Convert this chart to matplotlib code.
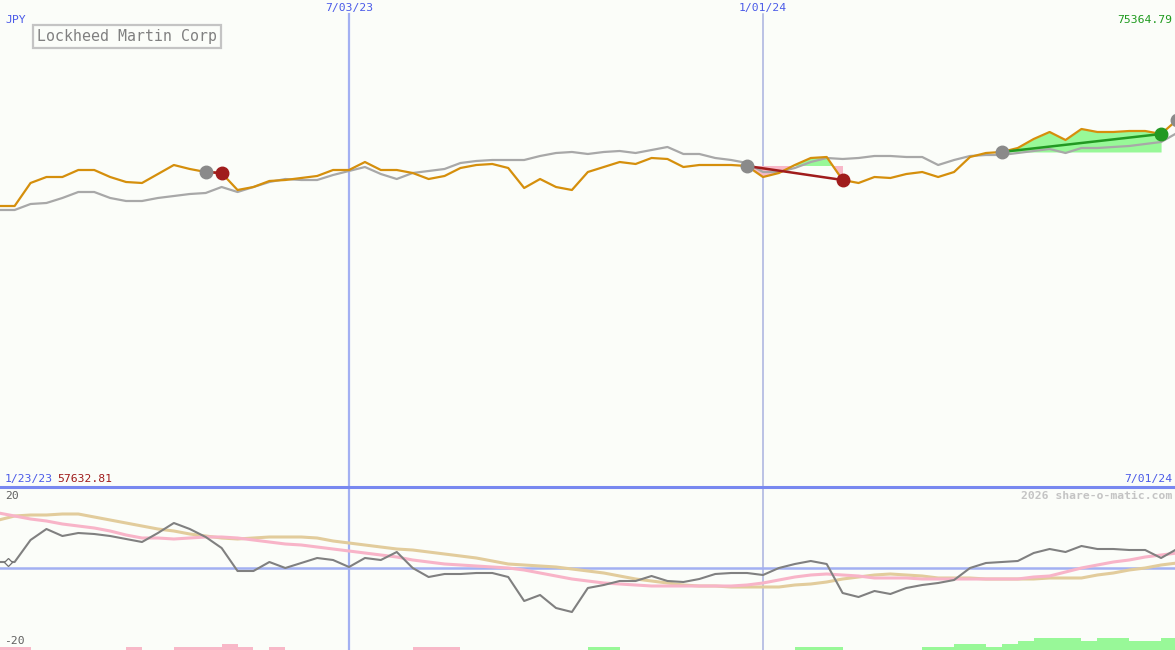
import matplotlib
matplotlib.use("Agg")
import matplotlib.pyplot as plt
import matplotlib.dates as mdates
import matplotlib.transforms as mtransforms
import numpy as np
import pandas as pd
from datetime import datetime

# ---------------- data ----------------
dates = pd.date_range("2023-01-30", periods=75, freq="7D")

price = [67864, 67864, 68702, 68920, 68920, 69175, 69175, 68920, 68738, 68702,
         69029, 69357, 69212, 69102, 69066, 68447, 68556, 68775, 68811, 68884,
         68957, 69175, 69175, 69466, 69175, 69175, 69066, 68847, 68957, 69248,
         69357, 69394, 69248, 68520, 68847, 68556, 68447, 69102, 69284, 69466,
         69394, 69612, 69576, 69284, 69357, 69357, 69357, 69321, 68920, 69066,
         69357, 69612, 69648, 68811, 68702, 68920, 68884, 69029, 69102, 68920,
         69102, 69648, 69794, 69831, 69976, 70304, 70559, 70267, 70668, 70559,
         70559, 70595, 70595, 70486, 70996]

benchmark = [67719, 67719, 67937, 67974, 68156, 68374, 68374, 68156, 68046, 68046,
             68156, 68228, 68301, 68338, 68556, 68374, 68556, 68738, 68847, 68811,
             68811, 68993, 69139, 69284, 69029, 68847, 69066, 69139, 69212, 69430,
             69503, 69539, 69539, 69539, 69685, 69794, 69831, 69758, 69831, 69867,
             69794, 69903, 70013, 69758, 69758, 69612, 69539, 69430, 69102, 69102,
             69248, 69466, 69612, 69576, 69612, 69685, 69685, 69648, 69648, 69357,
             69539, 69685, 69721, 69721, 69794, 69867, 69940, 69794, 69976, 69976,
             70013, 70049, 70122, 70195, 70522]

momentum = [1.5, 1.5, 7, 9.75, 8, 8.75, 8.5, 8, 7.25, 6.5,
            8.75, 11.25, 9.75, 7.75, 5, -0.75, -0.75, 1.5, 0, 1.25,
            2.5, 2, 0.25, 2.5, 2, 4, 0, -2.25, -1.5, -1.5,
            -1.25, -1.25, -2.25, -8.25, -6.75, -10, -11, -5, -4.25, -3.25,
            -3.25, -2, -3.25, -3.5, -2.75, -1.5, -1.25, -1.25, -1.75, 0,
            1, 1.75, 1, -6.25, -7.25, -5.75, -6.5, -5, -4.25, -3.75,
            -3, 0, 1.25, 1.5, 1.75, 3.75, 4.75, 4, 5.5, 4.75,
            4.75, 4.5, 4.5, 2.5, 4.75]

avg_fast = [13.75, 13, 12.25, 11.75, 11, 10.5, 10, 9.25, 8.25, 7.5,
            7.5, 7.25, 7.5, 7.75, 7.75, 7.5, 7, 6.5, 6, 5.75,
            5.25, 4.75, 4.25, 3.75, 3.25, 2.75, 2, 1.5, 1, 0.75,
            0.5, 0.25, 0, -0.5, -1.25, -2, -2.75, -3.25, -3.75, -4,
            -4.25, -4.5, -4.5, -4.5, -4.5, -4.5, -4.5, -4.25, -3.75, -3,
            -2.25, -1.75, -1.5, -1.75, -2, -2.5, -2.5, -2.5, -2.75, -2.75,
            -2.75, -2.75, -2.75, -2.75, -2.75, -2.25, -2, -1, 0, 0.75,
            1.5, 2, 2.75, 3.25, 3.75]

avg_slow = [12, 13, 13.25, 13.25, 13.5, 13.5, 12.75, 12, 11.25, 10.5,
            9.75, 9.25, 8.5, 8, 7.5, 7.25, 7.5, 7.75, 7.75, 7.75,
            7.5, 6.75, 6.25, 5.75, 5.25, 4.75, 4.5, 4, 3.5, 3,
            2.5, 1.75, 1, 0.75, 0.5, 0.25, -0.25, -0.75, -1.25, -2,
            -2.75, -3.25, -3.75, -4.25, -4.5, -4.5, -4.75, -4.75, -4.75, -4.75,
            -4.25, -4, -3.5, -2.75, -2.25, -1.75, -1.5, -1.75, -2, -2.5,
            -2.5, -2.5, -2.75, -2.75, -2.75, -2.75, -2.5, -2.5, -2.5, -1.75,
            -1.25, -0.5, 0, 0.75, 1.25]

signal = [-1, -1, 0, 0, 0, 0, 0, 0, -1, 0,
          0, -1, -1, -1, -2, -1, 0, -1, 0, 0,
          0, 0, 0, 0, 0, 0, -1, -1, -1, 0,
          0, 0, 0, 0, 0, 0, 0, 1, 1, 0,
          0, 0, 0, 0, 0, 0, 0, 0, 0, 0,
          1, 1, 1, 0, 0, 0, 0, 0, 1, 1,
          2, 2, 1, 2, 3, 4, 4, 4, 3, 4,
          4, 3, 3, 4, 0]

trade_entry = [13, 47, 63]
trade_exit = [14, 53, 73]
open_entry = [74]

title = "Lockheed Martin Corp"
currency = "JPY"
price_top = "75364.79"
price_bottom = "57632.81"
vline_dates = ["2023-07-03", "2024-01-01"]
vline_labels = ["7/03/23", "1/01/24"]
start_label = "1/23/23"
end_label = "7/01/24"
credit = "2026 share-o-matic.com"

# ---------------- style ----------------
BG = "#fbfdf9"
ORANGE = "#d58f0c"
GREY = "#a8a8a8"
BLUE_TXT = "#4a5ae8"
MONO = "DejaVu Sans Mono"

W, H = 1175, 650
fig = plt.figure(figsize=(W / 100, H / 100), dpi=100, facecolor=BG)

split = 487
ax = fig.add_axes([0, (H - split) / H, 1, split / H], facecolor=BG)
ax2 = fig.add_axes([0, 0, 1, (H - split) / H], facecolor=BG)

x = mdates.date2num(dates)
ref = mdates.date2num(datetime(2023, 7, 3))
px_day = 414 / 182
xl = (ref - 349 / px_day, ref + (W - 349) / px_day)

for a in (ax, ax2):
    a.set_xlim(*xl)
    for s in a.spines.values():
        s.set_visible(False)
    a.set_xticks([])
    a.set_yticks([])

ax.set_ylim(float(price_bottom), float(price_top))
ax2.set_ylim(-20.5, 20.25)

# vertical date lines
vl_cols = ["#a3b0f2", "#aab2e0"]
vl_w = [1.6, 1.1]
for d, c, lw in zip(vline_dates, vl_cols, vl_w):
    xd = mdates.date2num(pd.Timestamp(d))
    ax.axvline(xd, ymin=0, ymax=1 - 14 / split, color=c, lw=lw, zorder=1)
    ax2.axvline(xd, color=c, lw=lw, zorder=1)

# price and benchmark
ax.plot(x, benchmark, color=GREY, lw=1.6, zorder=3)

price_arr = np.array(price, dtype=float)
for e, xo in zip(trade_entry, trade_exit):
    seg = slice(e, xo + 1)
    lvl = price_arr[e]
    ax.fill_between(x[seg], lvl, price_arr[seg], where=price_arr[seg] >= lvl,
                    interpolate=True, color="#98f898", lw=0, zorder=2)
    ax.fill_between(x[seg], lvl, price_arr[seg], where=price_arr[seg] <= lvl,
                    interpolate=True, color="#f8b8c8", lw=0, zorder=2)

ax.plot(x, price, color=ORANGE, lw=1.6, zorder=4)

MS = 9
for e, xo in zip(trade_entry, trade_exit):
    win = price_arr[xo] >= price_arr[e]
    lc = "#229922" if win else "#a01c1c"
    ax.plot([x[e], x[xo]], [price_arr[e], price_arr[xo]], color=lc, lw=1.8, zorder=5)
    ax.plot(x[e], price_arr[e], "o", ms=MS, color="#8a8a8a", zorder=6)
    ax.plot(x[xo], price_arr[xo], "o", ms=MS, color=lc, zorder=6)
for e in open_entry:
    ax.plot(x[e], price_arr[e], "o", ms=MS, color="#8a8a8a", zorder=6)

# lower panel
ax2.axhline(0, color="#a3b0f2", lw=1.8, zorder=1)
sig = np.array(signal, dtype=float)
unit = 0.75
bar_cols = ["#98f898" if v > 0 else "#f8b8c8" for v in sig]
ax2.bar(x, np.abs(sig) * unit, width=7, align="edge", bottom=-20.5,
        color=bar_cols, lw=0, zorder=2)
ax2.plot(x, avg_slow, color="#e2cc9c", lw=2.2, zorder=3)
ax2.plot(x, avg_fast, color="#f8b4c8", lw=2.2, zorder=3)
ax2.plot(x, momentum, color="#808080", lw=1.5, zorder=4)

# zero marker on left
tr0 = mtransforms.blended_transform_factory(ax2.transAxes, ax2.transData)
ax2.plot([8 / W], [momentum[0]], marker="D", ms=4, mfc=BG, mec="#707070",
         mew=0.9, transform=tr0, zorder=6, clip_on=False)

# separator line
fig.add_artist(plt.Line2D([0, 1], [(H - split) / H] * 2, color="#7888f0", lw=2.2,
                          transform=fig.transFigure))

# ---------------- texts ----------------
def ftxt(xp, yp, s, **kw):
    fig.text(xp / W, 1 - yp / H, s, family=MONO, **kw)

fs = 8.2
for d, lab in zip(vline_dates, vline_labels):
    xd = mdates.date2num(pd.Timestamp(d))
    xp = (xd - xl[0]) * px_day
    ftxt(xp, 8, lab, color=BLUE_TXT, fontsize=fs, ha="center", va="center")
ftxt(5, 20, currency, color=BLUE_TXT, fontsize=fs, ha="left", va="center")
ftxt(1172, 20, price_top, color="#1e9a1e", fontsize=fs, ha="right", va="center")
ftxt(5, 479, start_label, color=BLUE_TXT, fontsize=fs, ha="left", va="center")
ftxt(57, 479, price_bottom, color="#a01c1c", fontsize=fs, ha="left", va="center")
ftxt(1172, 479, end_label, color=BLUE_TXT, fontsize=fs, ha="right", va="center")
ftxt(1172, 496, credit, color="#c4c4c4", fontsize=fs, ha="right", va="center",
     fontweight="bold")
ftxt(5, 496, "20", color="#606060", fontsize=fs, ha="left", va="center")
ftxt(4, 641, "-20", color="#606060", fontsize=fs, ha="left", va="center")

ftxt(37, 36.5, title, color="#808080", fontsize=10.7, ha="left", va="center",
     bbox=dict(boxstyle="square,pad=0.25", fc=BG, ec="#c4c4c4", lw=1.6))

fig.savefig("out.png", dpi=100, facecolor=BG)
